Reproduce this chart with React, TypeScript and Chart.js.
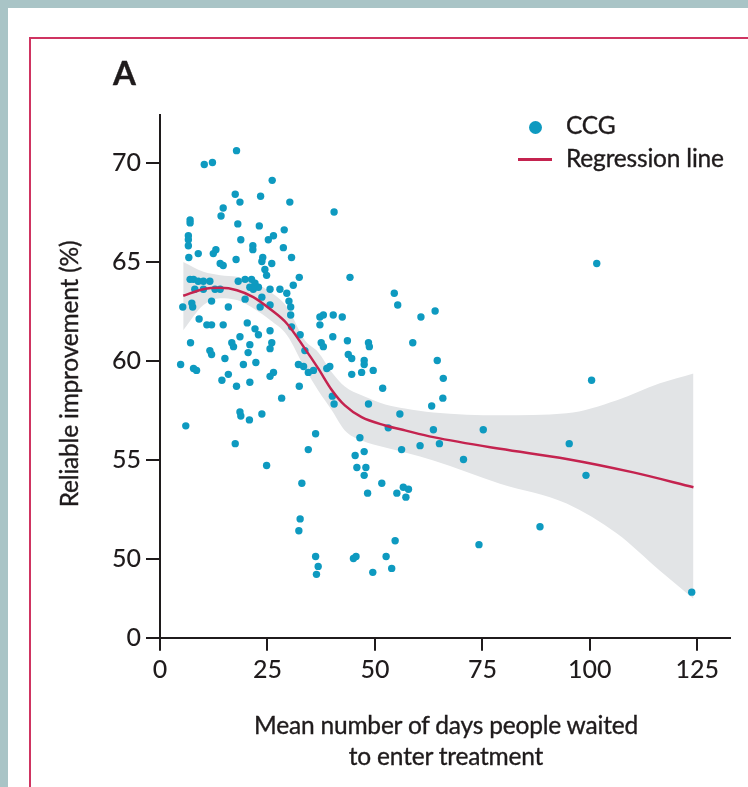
import React, { useEffect, useRef } from 'react';
import { Chart, registerables } from 'chart.js';

Chart.register(...registerables);

// Mean number of days people waited (x) and reliable improvement % (y) for each CCG
const ccgDays = [
  17.8, 10.3, 12.2, 26.1, 17.5, 18.6, 23.4, 14.7, 14.2, 30.2, 40.5, 7.0, 7.0, 18.1, 23.1,
  6.6, 6.6, 6.6, 28.9, 18.8, 26.4, 25.2, 21.6, 21.6, 13.0, 12.4, 28.7, 8.9, 6.7, 17.7,
  23.9, 23.7, 30.6, 14.0, 14.7, 26.0, 24.4, 24.8, 32.4, 44.2, 7.0, 7.8, 8.9, 10.1, 11.6,
  18.2, 19.8, 21.3, 22.1, 22.9, 8.1, 10.1, 12.8, 14.0, 20.9, 21.7, 25.6, 27.9, 29.5, 31.0,
  54.5, 55.3, 30.0, 30.4, 30.4, 5.3, 7.4, 7.6, 12.0, 15.9, 19.8, 23.7, 23.3, 25.6, 64.0,
  60.7, 37.2, 38.0, 40.3, 42.4, 37.2, 9.1, 10.9, 12.0, 14.7, 20.3, 22.1, 22.9, 25.6, 30.6,
  32.6, 40.2, 43.6, 48.5, 48.7, 37.5, 38.0, 58.8, 64.5, 65.9, 65.8, 63.2, 33.7, 43.8, 44.6,
  47.5, 47.5, 32.2, 33.4, 34.5, 35.7, 38.8, 39.5, 44.6, 46.9, 49.6, 7.1, 16.7, 18.6, 17.1,
  20.9, 20.5, 26.0, 25.6, 11.6, 12.0, 15.1, 22.3, 19.4, 4.8, 7.8, 8.5, 15.9, 26.4, 25.6,
  14.4, 17.8, 20.9, 28.3, 32.4, 51.8, 40.1, 40.5, 48.5, 55.8, 18.6, 18.8, 20.8, 23.7, 6.0,
  17.5, 24.8, 53.1, 63.6, 75.2, 36.2, 46.5, 95.2, 65.0, 60.5, 34.5, 56.2, 45.4, 47.5, 70.6,
  45.8, 47.9, 47.5, 99.1, 33.0, 51.6, 48.3, 55.1, 56.6, 57.2, 57.8, 32.6, 32.3, 88.4, 54.7,
  74.2, 36.2, 36.8, 36.4, 45.0, 45.6, 52.6, 53.9, 49.5, 123.7, 100.4, 101.6,
];
const ccgImprovement = [
  70.6, 69.9, 70.0, 69.1, 68.4, 68.0, 68.3, 67.7, 67.3, 68.0, 67.5, 67.1, 66.95, 66.9, 66.8,
  66.3, 66.1, 65.8, 66.6, 66.1, 66.3, 66.1, 65.8, 65.6, 65.6, 65.4, 65.7, 65.4, 65.2, 65.1,
  65.2, 65.0, 65.2, 64.9, 64.8, 64.9, 64.6, 64.3, 64.2, 64.2, 64.1, 64.1, 64.0, 64.0, 64.0,
  64.0, 64.1, 64.1, 63.9, 63.7, 63.6, 63.6, 63.6, 63.6, 63.7, 63.6, 63.6, 63.6, 63.4, 63.8,
  63.4, 62.8, 63.0, 62.7, 62.3, 62.7, 62.9, 62.7, 63.0, 62.7, 63.1, 63.2, 62.7, 62.8, 62.5,
  62.2, 62.2, 62.3, 62.3, 62.2, 61.8, 62.1, 61.8, 61.8, 61.8, 61.9, 61.6, 61.3, 61.5, 61.7,
  61.3, 61.2, 61.0, 60.9, 60.7, 60.9, 60.7, 60.9, 60.0, 59.1, 58.1, 57.7, 60.5, 60.3, 60.1,
  60.0, 59.8, 59.8, 59.7, 59.4, 59.5, 59.6, 59.7, 59.3, 59.4, 59.5, 60.9, 60.9, 61.2, 60.7,
  60.8, 60.4, 60.9, 60.6, 60.5, 60.3, 60.1, 59.9, 59.8, 59.8, 59.6, 59.5, 59.3, 59.4, 59.2,
  59.0, 58.7, 58.9, 58.1, 58.7, 58.6, 58.2, 57.8, 57.8, 57.3, 57.4, 57.2, 57.0, 57.3, 56.7,
  55.8, 54.7, 56.6, 56.5, 56.5, 56.3, 56.1, 55.8, 55.8, 55.7, 55.5, 55.5, 55.2, 55.4, 55.0,
  54.6, 54.6, 54.2, 54.2, 53.8, 53.8, 53.3, 53.3, 53.6, 53.1, 53.5, 52.0, 51.4, 51.6, 50.9,
  50.7, 50.1, 49.6, 49.2, 50.0, 50.1, 50.1, 49.5, 49.3, 48.3, 59.0, 64.9,
];

// Regression line
const fitDays = [5.4, 10.1, 14.0, 17.9, 21.7, 25.6, 29.5, 33.7, 36.8, 40.0, 43.0, 46.9, 52.4, 57.0, 63.6, 79.1, 94.6, 110.1, 124.1];
const fitImprovement = [63.27, 63.6, 63.67, 63.55, 63.2, 62.6, 61.87, 60.6, 59.6, 58.5, 57.73, 57.14, 56.72, 56.47, 56.13, 55.54, 55.03, 54.35, 53.6];

// Confidence band
const bandDays = [5.4, 10.1, 14.0, 17.9, 21.7, 25.6, 29.5, 33.7, 36.8, 40.0, 43.0, 46.9, 52.4, 57.0, 63.6, 79.1, 94.6, 106.3, 116.3, 124.1];
const bandUpper = [64.97, 64.48, 64.31, 64.23, 63.97, 63.47, 62.71, 61.02, 60.42, 59.4, 58.69, 58.24, 57.78, 57.58, 57.38, 57.23, 57.33, 57.99, 58.85, 59.35];
const bandLower = [61.53, 62.8, 63.15, 63.05, 62.64, 62.04, 61.29, 59.61, 58.49, 57.48, 56.47, 55.96, 55.61, 55.35, 54.95, 53.78, 52.78, 51.26, 49.38, 47.97];

// Axis ticks (the y axis is broken: its lowest tick stands for 0)
const xTickValues = [0, 25, 50, 75, 100, 125];
const yTickValues = [46, 50, 55, 60, 65, 70];
const yTickLabels = ['0', '50', '55', '60', '65', '70'];

const INK = '#1f1b1c';
const TEAL = '#0e9ac0';
const CRIMSON = '#c4234f';
const FONT = 'Lato, "Noto Sans", sans-serif';

function ChartCanvas() {
  const ref = useRef<HTMLCanvasElement | null>(null);
  useEffect(() => {
    const canvas = ref.current;
    if (!canvas) return;
    const toPts = (xs: number[], ys: number[]) => xs.map((x, i) => ({ x, y: ys[i] }));
    const chart = new Chart(canvas, {
      type: 'scatter',
      data: {
        datasets: [
          {
            type: 'line',
            label: 'upper',
            data: toPts(bandDays, bandUpper),
            borderWidth: 0,
            borderColor: 'rgba(0,0,0,0)',
            pointRadius: 0,
            fill: '+1',
            backgroundColor: '#e2e4e6',
            cubicInterpolationMode: 'monotone',
            order: 3,
          } as any,
          {
            type: 'line',
            label: 'lower',
            data: toPts(bandDays, bandLower),
            borderWidth: 0,
            borderColor: 'rgba(0,0,0,0)',
            pointRadius: 0,
            fill: false,
            cubicInterpolationMode: 'monotone',
            order: 3,
          } as any,
          {
            type: 'scatter',
            label: 'CCG',
            data: toPts(ccgDays, ccgImprovement),
            pointRadius: 3.7,
            pointStyle: 'circle',
            backgroundColor: TEAL,
            borderWidth: 0,
            order: 2,
          } as any,
          {
            type: 'line',
            label: 'Regression line',
            data: toPts(fitDays, fitImprovement),
            borderColor: CRIMSON,
            borderWidth: 2.5,
            pointRadius: 0,
            fill: false,
            cubicInterpolationMode: 'monotone',
            order: 1,
          } as any,
        ],
      },
      options: {
        responsive: false,
        animation: false,
        devicePixelRatio: 1,
        layout: { padding: { left: 0, top: 115, right: 18, bottom: 0 } },
        plugins: { legend: { display: false }, tooltip: { enabled: false } },
        scales: {
          x: {
            type: 'linear',
            min: 0,
            max: 132.6,
            afterBuildTicks: (s: any) => {
              s.ticks = xTickValues.map((v) => ({ value: v }));
            },
            afterFit: (s: any) => {
              s.height = 149.3;
            },
            grid: { drawOnChartArea: false, drawTicks: true, tickLength: 13, color: INK, lineWidth: 2 },
            border: { color: INK, width: 2 },
            ticks: {
              color: INK,
              font: { family: FONT, size: 25, weight: '500' },
              padding: 4,
              maxRotation: 0,
              autoSkip: false,
            },
          },
          y: {
            type: 'linear',
            min: 46,
            max: 72.4,
            afterBuildTicks: (s: any) => {
              s.ticks = yTickValues.map((v) => ({ value: v }));
            },
            afterFit: (s: any) => {
              s.width = 160;
            },
            grid: { drawOnChartArea: false, drawTicks: true, tickLength: 14, color: INK, lineWidth: 2 },
            border: { color: INK, width: 2 },
            ticks: {
              color: INK,
              font: { family: FONT, size: 25, weight: '500' },
              padding: 5,
              autoSkip: false,
              callback: (v: any) => {
                const i = yTickValues.indexOf(Number(v));
                return i >= 0 ? yTickLabels[i] : '';
              },
            },
          },
        },
      } as any,
    });
    return () => chart.destroy();
  }, []);
  return (
    <canvas
      ref={ref}
      width={748}
      height={787}
      style={{ position: 'absolute', left: 0, top: 0, width: 748, height: 787 }}
    />
  );
}

export default function App() {
  const text: React.CSSProperties = {
    position: 'absolute',
    fontFamily: FONT,
    color: INK,
    whiteSpace: 'nowrap',
    WebkitTextStroke: '0.35px #1f1b1c',
    letterSpacing: '-0.2px',
  };
  return (
    <div
      style={{
        position: 'absolute',
        left: 0,
        top: 0,
        width: 748,
        height: 787,
        overflow: 'hidden',
        background: '#a9c4c6',
      }}
    >
      <div style={{ position: 'absolute', left: 8, top: 8, right: 0, bottom: 0, background: '#ffffff' }} />
      <div
        style={{
          position: 'absolute',
          left: 29,
          top: 37,
          width: 760,
          height: 800,
          border: '2px solid #cf3461',
          boxSizing: 'border-box',
        }}
      />
      <ChartCanvas />
      <div style={{ ...text, left: 113, top: 72, transform: 'translateY(-50%)', fontSize: 33, fontWeight: 700, lineHeight: 1 }}>
        A
      </div>
      {/* legend */}
      <div
        style={{
          position: 'absolute',
          left: 529,
          top: 121,
          width: 13,
          height: 13,
          borderRadius: '50%',
          background: TEAL,
        }}
      />
      <div style={{ ...text, left: 566, top: 125, transform: 'translateY(-50%)', fontSize: 24.5, lineHeight: 1 }}>CCG</div>
      <div style={{ position: 'absolute', left: 518, top: 158, width: 34, height: 2.5, background: CRIMSON }} />
      <div style={{ ...text, left: 566, top: 158, transform: 'translateY(-50%)', fontSize: 24.5, lineHeight: 1 }}>
        Regression line
      </div>
      {/* axis titles */}
      <div
        style={{
          ...text,
          left: 246,
          width: 400,
          top: 709,
          textAlign: 'center',
          fontSize: 24.5,
          lineHeight: '31px',
        }}
      >
        Mean number of days people waited
        <br />
        to enter treatment
      </div>
      <div
        style={{
          ...text,
          left: 69 - 200,
          top: 374 - 15,
          width: 400,
          height: 30,
          lineHeight: '30px',
          textAlign: 'center',
          fontSize: 24.5,
          transform: 'rotate(-90deg)',
        }}
      >
        Reliable improvement (%)
      </div>
    </div>
  );
}
